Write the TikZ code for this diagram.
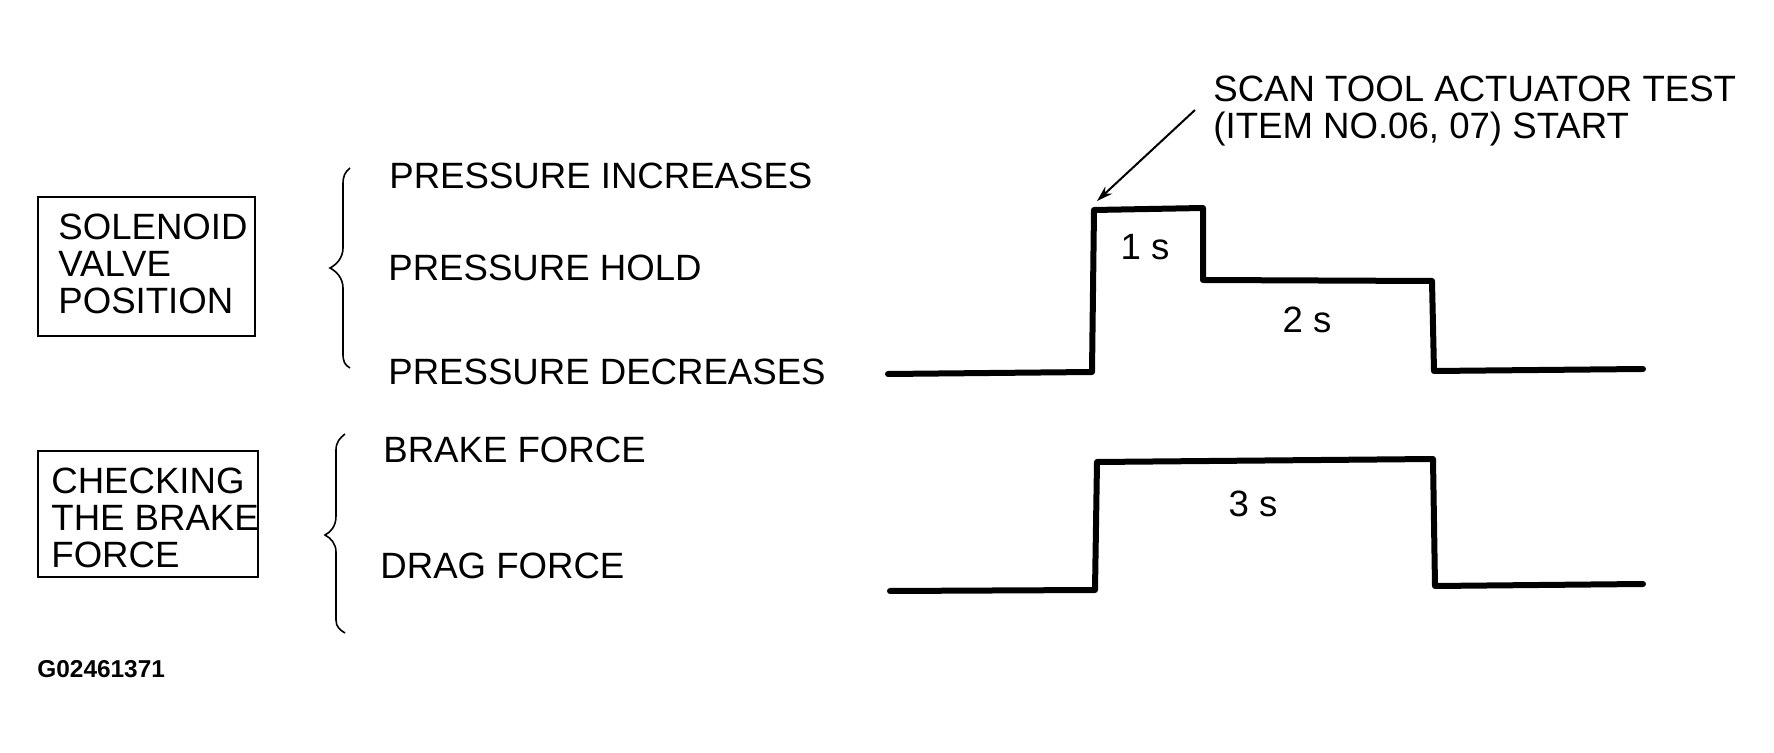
\documentclass[tikz,border=0pt]{standalone}
\usepackage{fontspec}
\setmainfont{Liberation Sans}
\usetikzlibrary{arrows.meta, positioning}

\tikzset{
    lbl/.style={anchor=base west, inner sep=0pt, font=\fontsize{18.3}{18.5}\selectfont},
    frame/.style={draw, line width=1pt, inner sep=0pt, anchor=north west},
    wave/.style={line width=3pt, line join=round, line cap=round},
    curly/.style={line width=0.8pt},
    pointer/.style={line width=1pt, -{Stealth[length=8pt, width=5pt]}},
}

\begin{document}
\begin{tikzpicture}[x=0.5pt, y=-0.5pt]
    \useasboundingbox (0,0) rectangle (1774,753);

    % boxes on the left (multi-line text sits on its last baseline)
    \node[frame, minimum width=108.5pt, minimum height=69.5pt] (solbox) at (37,196) {};
    \node[lbl, align=left] (soltext) at (58,314) {SOLENOID\\VALVE\\POSITION};
    \node[frame, minimum width=110pt, minimum height=63pt] (brakebox) at (37,450) {};
    \node[lbl, align=left] (braketext) at (51,568) {CHECKING\\THE BRAKE\\FORCE};

    % braces
    \draw[curly] (350,168) .. controls (345,172) and (343,176) .. (343,184)
        -- (343,248) .. controls (343,258) and (336,265) .. (330,268)
        .. controls (336,271) and (343,278) .. (343,288)
        -- (343,354) .. controls (343,362) and (345,365) .. (350,368);
    \draw[curly] (345,434) .. controls (340,438) and (336,442) .. (336,450)
        -- (336,516) .. controls (336,526) and (331,532) .. (325,535)
        .. controls (331,538) and (336,544) .. (336,552)
        -- (336,620) .. controls (336,627) and (340,630) .. (345,633);

    % levels
    \node[lbl] (incr) at (389,189) {PRESSURE INCREASES};
    \node[lbl] (hold) at (388,281) {PRESSURE HOLD};
    \node[lbl] (decr) at (388,385) {PRESSURE DECREASES};
    \node[lbl] (brake) at (383,463) {BRAKE FORCE};
    \node[lbl] (drag) at (380,579) {DRAG FORCE};

    % solenoid valve signal
    \coordinate (a0) at (888,374);
    \coordinate (a1) at (1092,372);
    \coordinate (a2) at (1094,210);
    \coordinate (a3) at (1203,208);
    \coordinate (a4) at (1203,280);
    \coordinate (a5) at (1432,281);
    \coordinate (a6) at (1434,371);
    \coordinate (a7) at (1643,369);
    \draw[wave] (a0) -- (a1) -- (a2) -- (a3) -- (a4) -- (a5) -- (a6) -- (a7);

    % brake force signal
    \coordinate (b0) at (890,591);
    \coordinate (b1) at (1095,590);
    \coordinate (b2) at (1097,462);
    \coordinate (b3) at (1433,459);
    \coordinate (b4) at (1435,586);
    \coordinate (b5) at (1643,584);
    \draw[wave] (b0) -- (b1) -- (b2) -- (b3) -- (b4) -- (b5);

    % durations
    \node[lbl, anchor=base] (t1) at (1145,260) {1 s};
    \node[lbl, anchor=base] (t2) at (1307,333) {2 s};
    \node[lbl, anchor=base] (t3) at (1253,517) {3 s};

    % start of test
    \node[lbl, align=left] (scan) at (1213,139) {SCAN TOOL ACTUATOR TEST\\(ITEM NO.06, 07) START};
    \coordinate (arrtail) at (1195,110);
    \coordinate (arrtip) at (1097,201);
    \draw[pointer] (arrtail) -- (arrtip);

    \node[lbl, font=\bfseries\fontsize{12.2}{14}\selectfont] (gnum) at (37,677) {G02461371};
\end{tikzpicture}
\end{document}
